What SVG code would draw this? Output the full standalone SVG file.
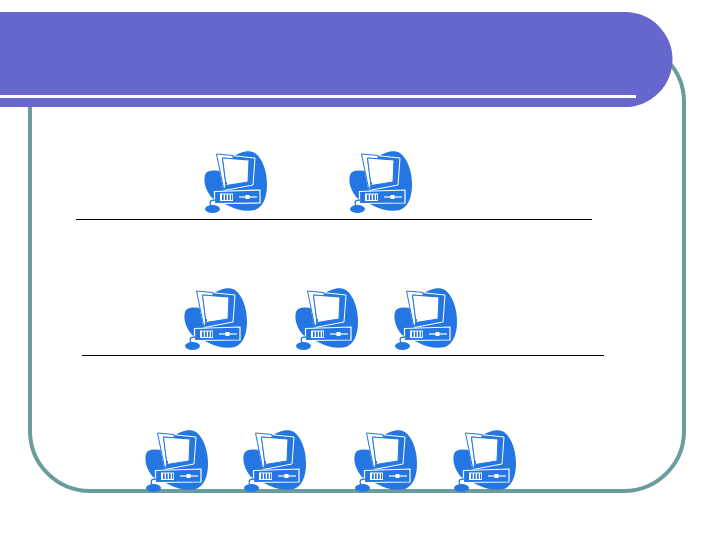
<svg xmlns="http://www.w3.org/2000/svg" width="720" height="540" viewBox="0 0 720 540">
<style>
.blue{fill:#2477e3}
.w{fill:#fff}
.band{fill:#2477e3;stroke:#fff;stroke-width:1}
.side{fill:#fff;stroke:#2477e3;stroke-width:1}
.scr{fill:#fff;stroke:#2477e3;stroke-width:1}
.case{fill:#2477e3;stroke:#fff;stroke-width:1.2}
.rule{stroke:#000;stroke-width:1;fill:none}
.d{fill:none;stroke:#fff;stroke-width:1.2}
.cord{fill:none;stroke:#2477e3;stroke-width:1.4}
</style>
<defs>
<g id="pc">
<path class="blue" d="M38 17C44 12 54 9 60 13C68 19 72 32 72 45C72 57 68 67 60 70C51 72 42 70 34 66L17 58C11 51 8 42 10 35C12 30 18 30 26 31Z"/>
<path class="band" d="M21.500 14L60 18L58 45L29 50.500Z"/>
<path class="side" d="M21.500 14L38 15.500L38 19L27.500 18L31 45L29 50.500Z"/>
<path class="scr" d="M27.500 18L54 20L53 42L31 45.500Z"/>
<rect class="blue" x="30" y="42" width="2" height="2.500"/>
<path class="case" d="M19.500 51.500L65 50L65 63L19.500 63.500Z"/>
<rect class="w" x="25" y="53.500" width="13" height="7.500"/>
<path class="blue" d="M27 54.500h1.700v5.500h-1.700zM30 54.500h1.700v5.500h-1.700zM33 54.500h1.700v5.500h-1.700zM36 54.500h1.200v5.500h-1.200z"/>
<path class="d" d="M44 57H62"/>
<rect class="w" x="50.500" y="55" width="4" height="4"/>
<path class="cord" d="M20 60C15 60 14 62 16 66"/>
<ellipse class="blue" cx="17.500" cy="69" rx="7.500" ry="4"/>
</g>
</defs>
<g id="frame"><rect x="30" y="42" width="654" height="449" rx="60" ry="60" fill="#fff" stroke="#6b9c9c" stroke-width="4"/></g>
<g id="header">
<path d="M0 12H625A47.500 47.500 0 0 1 625 107H0Z" fill="#6666cc"/>
<rect x="0" y="95" width="636" height="3" fill="#fff"/>
</g>
<g id="connectors">
<path class="rule" d="M76 219.500H592"/>
<path class="rule" d="M82 355.500H604"/>
</g>
<g id="pc1"><use href="#pc" x="195" y="140"/></g>
<g id="pc2"><use href="#pc" x="340" y="140"/></g>
<g id="pc3"><use href="#pc" x="175" y="277"/></g>
<g id="pc4"><use href="#pc" x="286" y="277"/></g>
<g id="pc5"><use href="#pc" x="385" y="277"/></g>
<g id="pc6"><use href="#pc" x="136" y="419"/></g>
<g id="pc7"><use href="#pc" x="234" y="419"/></g>
<g id="pc8"><use href="#pc" x="345" y="419"/></g>
<g id="pc9"><use href="#pc" x="444" y="419"/></g>
</svg>
